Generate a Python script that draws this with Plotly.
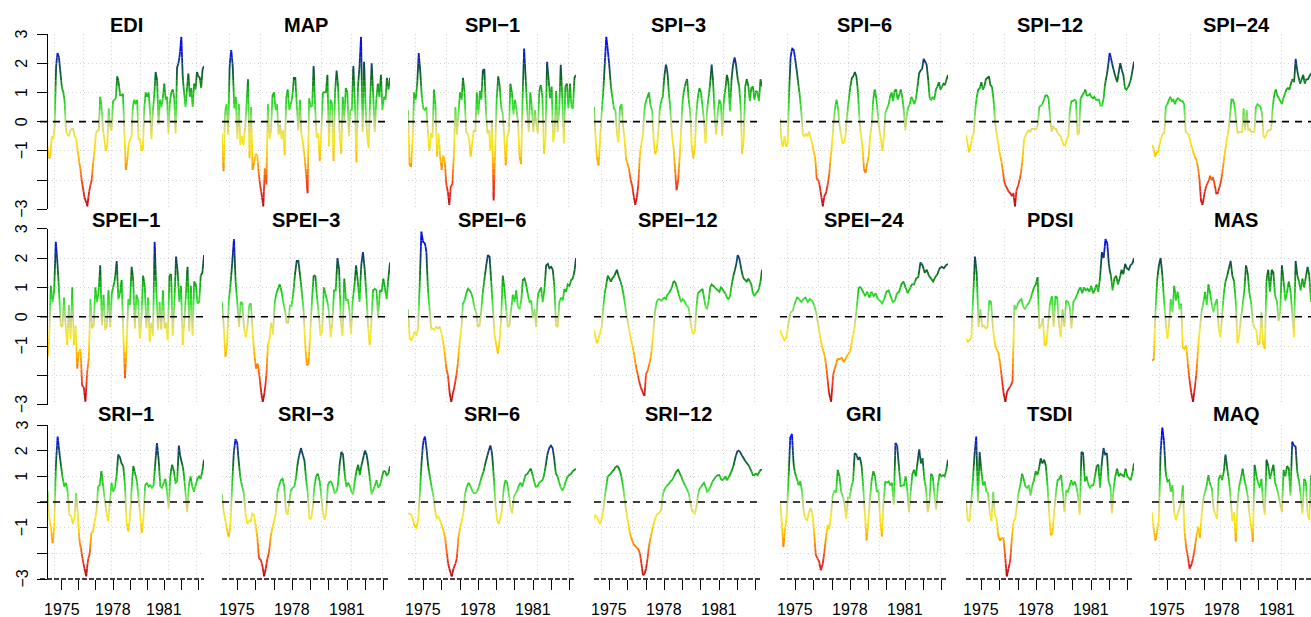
import numpy as np
import pandas as pd
import plotly.graph_objects as go

# ---------------- data ----------------
N_MONTHS = 111
START = "1974-03-01"

EDI = [-0.85, -1.25, -1.2, -0.5, -0.6, -0.2, 1.9, 2.35, 2.2, 1.7,
       1.2, 1.0, 0.75, -0.35, -0.45, -0.5, -0.3, -0.25, -0.25, -0.5,
       -0.55, -0.9, -1.3, -1.6, -2.0, -2.3, -2.6, -2.7, -2.9, -2.45,
       -2.2, -2.0, -1.4, -1.0, -0.4, -0.3, -0.3, 0.85, 0.5, -0.3,
       -0.6, -1.0, -0.8, 0.45, -0.2, -0.3, 0.7, 0.75, 0.8, 1.55,
       1.35, 0.9, 0.9, 0.95, -0.35, -1.65, -1.35, -0.75, -0.6, -0.5,
       0.55, 0.75, 0.6, 0.75, -0.6, -0.6, -1.0, -0.95, 0.5, 1.0,
       0.85, 1.0, 0.4, -0.6, 0.35, 0.9, 1.7, 1.4, -0.1, 0.75,
       0.5, 0.8, 1.3, 0.75, 0.85, -0.4, 0.7, 1.0, 1.1, 0.85,
       -0.4, 1.85, 2.0, 2.3, 2.9, 1.5, 1.0, 0.5, 1.1, 1.65,
       0.85, 1.15, 0.5, 1.3, 1.1, 1.7, 1.55, 1.5, 1.15, 1.8, 1.9]

MAP = [-0.4, -1.7, 0.35, 0.6, -0.45, 1.95, 2.45, 1.9, 0.45, 0.85,
       -0.6, 0.6, -0.8, -0.5, -0.8, -0.3, 0.5, 1.45, -1.25, 0.5,
       -1.65, -1.4, -1.1, -1.15, -1.75, -2.2, -2.5, -2.9, -1.6, -2.15,
       0.6, -0.6, -0.35, 0.9, 1.0, 0.4, 0.6, -0.45, -0.1, -0.6,
       -0.3, -1.15, 0.8, 1.1, 0.4, 0.6, 0.85, 1.5, 1.5, 0.5,
       -0.3, 0.75, -0.45, -0.7, -1.2, -1.75, -2.45, 0.8, 0.5, 0.55,
       1.9, 0.45, -0.55, -0.4, -1.35, -0.35, 1.0, 1.0, 1.0, 1.6,
       -0.85, 0.75, 0.6, -1.35, 1.0, 1.75, 1.2, -0.5, -1.1, 0.85,
       0.05, 1.15, 1.0, -0.5, 0.4, 0.4, 1.9, 0.6, -1.4, 1.2,
       1.9, 2.9, -0.35, 2.05, 0.45, -0.5, -0.9, 0.75, 2.0, 0.9,
       -0.35, 0.75, 1.3, 0.85, 1.6, 0.4, 0.85, 0.75, 1.5, 1.1, 1.5]

SPI_1 = [0.4, -1.45, -1.55, -0.6, 1.0, 0.75, 1.3, 2.35, 1.7, 0.85,
         0.45, 0.4, 0.5, -0.35, -1.0, -0.4, -0.55, 1.1, 0.5, -1.2,
         -0.4, -1.2, -1.65, -1.15, -1.3, -2.15, -2.35, -2.85, -2.2, -2.15,
         -1.1, 0.5, -0.45, 0.3, 1.0, 0.75, 1.5, 1.0, -0.35, -0.4,
         -0.6, -1.2, -0.7, -0.3, -0.35, 1.0, 0.25, 1.05, 0.75, 1.75,
         1.8, 0.4, -0.4, -0.3, -1.0, 0.05, -2.7, -1.0, 0.75, 1.55,
         1.25, 0.45, 0.3, -0.5, -1.5, -0.5, -0.4, 1.3, 1.0, 0.25,
         0.75, 0.4, 0.0, -1.2, -1.45, 0.85, 2.5, 1.5, 0.4, -0.35,
         1.0, 0.5, -0.35, 0.4, -0.1, -0.4, 1.15, 1.25, 0.85, -1.1,
         -0.55, 2.05, 1.45, 0.8, 1.2, -0.7, -0.4, 1.05, -0.35, 0.45,
         1.95, 0.8, -0.75, 1.2, 1.3, 0.45, 1.3, 0.5, 0.45, 1.5, 1.6]

SPI_3 = [0.5, -0.5, -1.3, -1.5, -0.6, 0.3, 1.0, 1.95, 2.9, 2.45,
         1.9, 1.2, 0.85, 0.45, 0.4, -0.4, -0.7, 0.5, 0.6, -0.15,
         -0.6, -1.3, -1.45, -1.65, -2.0, -2.2, -2.55, -2.85, -2.6, -2.15,
         -1.1, -0.75, -0.45, 0.45, 0.75, 0.85, 1.0, 0.55, 0.4, -0.6,
         -1.1, -1.0, -0.4, 0.4, 0.75, 0.85, 1.55, 1.95, 1.75, 1.0,
         0.4, -0.45, -0.85, -1.6, -2.35, -2.05, -1.25, -0.3, 0.75, 1.1,
         1.35, 1.45, 0.75, 0.3, -0.85, -1.25, -0.85, 0.3, 0.85, 1.15,
         1.0, 0.5, 0.05, -0.75, 0.4, 0.85, 1.3, 1.95, 1.3, 0.15,
         -0.45, 0.35, 0.75, 0.6, -0.5, 0.75, 1.1, 1.6, 1.35, 0.35,
         1.45, 1.95, 2.2, 1.95, 1.45, 1.2, 0.5, -1.1, -0.6, 1.2,
         1.45, 1.25, 0.7, 1.15, 1.2, 0.75, 1.05, 1.0, 0.7, 1.45, 1.2]

SPI_6 = [0.1, -0.75, -0.85, -0.5, -0.85, -0.75, 1.1, 2.3, 2.5, 2.45,
         2.1, 1.7, 1.3, 0.85, 0.3, -0.45, -0.5, -0.4, -0.5, -0.35,
         -0.5, -0.75, -1.0, -1.25, -1.95, -2.0, -2.2, -2.55, -2.9, -2.55,
         -2.45, -2.2, -1.9, -1.3, -0.75, -0.05, 0.45, 0.75, 0.45, -0.15,
         -0.5, -0.75, -0.7, -0.4, 0.3, 0.75, 1.2, 1.5, 1.55, 1.7,
         1.55, 1.05, 0.1, -0.5, -0.9, -1.65, -1.75, -1.45, -1.2, -0.45,
         -0.15, 0.75, 1.1, 0.8, 0.3, -0.3, -0.55, -1.0, -0.5, 0.3,
         0.45, 0.55, 0.85, 1.0, 0.7, 1.05, 1.1, 0.75, 0.9, 1.1,
         0.85, 0.4, -0.3, 0.3, 0.5, 0.6, 0.85, 0.75, 0.6, 0.8,
         1.2, 1.65, 1.75, 1.8, 2.15, 2.05, 1.95, 1.45, 0.8, 0.75,
         0.85, 0.75, 1.1, 1.2, 1.35, 1.1, 1.2, 1.3, 1.25, 1.45, 1.6]

SPI_12 = [-0.45, -0.75, -1.05, -0.85, -0.55, -0.4, 0.4, 0.85, 1.1, 1.15,
          1.35, 1.1, 1.2, 1.45, 1.5, 1.55, 1.25, 1.2, 0.75, 0.0,
          -0.4, -0.75, -1.1, -1.3, -1.65, -2.05, -2.2, -2.3, -2.4, -2.45,
          -2.55, -2.45, -2.9, -2.35, -2.2, -2.0, -1.75, -1.3, -0.6, -0.45,
          -0.35, -0.3, -0.35, -0.25, -0.25, -0.25, -0.25, -0.1, 0.5, 0.55,
          0.6, 0.75, 0.9, 0.9, 0.8, 0.15, -0.35, -0.15, -0.25, -0.25,
          -0.4, -0.45, -0.5, -0.7, -0.8, -0.8, -0.6, -0.5, 0.4, 0.7,
          0.7, 0.75, 0.7, -0.45, -0.4, 0.8, 0.9, 0.95, 1.1, 0.9,
          0.9, 0.95, 0.85, 0.8, 0.85, 0.75, 0.75, 0.75, 0.55, 0.55,
          0.75, 1.3, 1.55, 1.9, 2.35, 2.15, 1.9, 1.7, 1.5, 1.35,
          1.7, 2.0, 1.75, 1.6, 1.15, 1.1, 1.15, 1.3, 1.45, 1.75, 2.05]

# last months of SPI-24 fall outside the cropped picture
SPI_24 = [-0.8, -0.9, -1.2, -1.05, -1.05, -0.75, -0.55, -0.4, -0.4, 0.5,
          0.6, 0.75, 0.85, 0.7, 0.75, 0.6, 0.75, 0.8, 0.75, 0.7,
          0.7, 0.6, -0.35, -0.4, -0.45, -0.7, -0.85, -1.05, -1.2, -1.3,
          -1.55, -1.95, -2.7, -2.85, -2.55, -2.25, -2.15, -2.05, -1.85, -2.0,
          -1.9, -2.15, -2.45, -2.45, -2.25, -2.1, -1.75, -1.3, -0.95, -0.6,
          -0.35, 0.15, 0.75, 0.75, 0.55, 0.1, -0.4, -0.35, -0.35, -0.35,
          0.45, -0.3, 0.4, -0.3, -0.25, -0.35, -0.35, -0.35, 0.5, 0.6,
          0.55, 0.5, 0.3, -0.5, -0.55, -0.4, -0.3, -0.3, -0.25, 0.5,
          0.95, 1.1, 0.9, 0.8, 0.7, 0.6, 0.8, 0.95, 1.1, 1.15,
          1.1, 1.35, 1.45, 1.35, 2.15, 1.75, 1.5, 1.3, 1.45, 1.6,
          1.3, 1.45, 1.45, 1.55, 1.65, None, None, None, None, None, None]

SPEI_1 = [-1.37, -0.75, 1.05, 0.5, 0.85, 2.55, 1.85, 0.85, -0.3, -0.35,
          0.65, -0.3, -0.97, 0.4, -0.75, 1.0, -0.97, -0.3, -1.77, -1.2,
          -1.1, -2.35, -2.4, -2.9, -1.9, -1.45, 0.6, -0.4, -0.3, 1.0,
          0.5, 0.85, 1.75, -0.3, 0.75, -0.45, -0.3, 0.9, -0.35, 0.8,
          1.05, 1.3, 1.9, 0.6, 0.8, 1.25, -0.65, -2.1, -0.97, 0.6,
          0.4, 1.7, 1.3, -0.4, 0.75, 0.55, -0.75, -0.05, 1.4, 1.05,
          -0.4, 0.65, -0.85, -0.2, -0.65, 2.55, 0.95, -0.45, 0.5, -0.45,
          0.9, -0.4, -0.2, -0.8, 1.4, 1.45, -0.65, 0.5, 2.05, 1.5,
          0.5, 1.05, -0.97, -0.2, 0.75, 1.7, -0.5, 1.05, -0.65, 1.2,
          1.1, 0.45, 0.5, 1.4, 1.5, 2.1]

SPEI_3 = [0.5, -0.3, -1.37, -0.97, 0.55, 1.1, 1.85, 2.65, 1.2, 0.45,
          -0.35, 0.5, 0.45, -0.4, -0.7, -0.35, 0.4, 0.45, -0.5, -1.25,
          -1.77, -1.6, -2.0, -2.55, -2.9, -2.6, -2.1, -0.97, -0.75, -0.2,
          -0.6, 0.5, 0.8, 0.95, 1.1, 0.9, 0.5, 0.25, -0.2, -0.2,
          0.4, 0.35, 0.85, 1.45, 1.9, 1.9, 1.4, 0.85, 0.25, -0.97,
          -1.65, -1.6, -0.5, 0.6, 1.4, 1.4, 0.65, 0.1, -0.65, -0.5,
          1.0, 0.75, 0.55, 0.15, -0.7, -0.2, 0.9, 0.9, 2.0, 1.6,
          -0.2, -0.65, 1.3, 0.55, 0.6, 0.25, -0.6, 0.55, 1.05, 1.75,
          1.2, 0.5, 1.75, 2.2, 1.65, 0.75, -0.3, -0.97, -0.2, 0.9,
          0.95, 0.9, -0.05, 0.9, 0.85, 1.3, 0.95, 0.6, 1.3, 1.85]

SPEI_6 = [0.25, -0.75, -0.8, -0.7, -0.5, -0.65, -0.45, 1.1, 2.9, 2.55,
          2.5, 2.3, 0.9, 0.25, -0.45, -0.4, -0.45, -0.35, -0.4, -0.35,
          -0.5, -0.85, -1.2, -1.77, -2.0, -2.6, -2.9, -2.6, -2.35, -2.0,
          -1.55, -0.85, -0.4, 0.45, 0.55, 0.8, 0.95, 0.9, 0.8, 0.6,
          0.25, 0.15, -0.35, -0.3, 0.2, 0.85, 1.3, 1.75, 2.1, 2.05,
          1.2, 0.25, -0.6, -0.97, -1.25, -0.85, -0.05, 1.4, 0.95, 0.25,
          -0.35, -0.3, 0.25, 0.75, 0.5, 0.9, 0.35, 0.25, 0.5, 1.25,
          1.3, 1.1, 0.75, 0.5, 0.55, -0.05, 0.25, -0.35, 0.75, 0.9,
          1.0, 0.5, 0.95, 1.75, 1.8, 1.65, 1.7, 1.6, 1.0, -0.3,
          -0.35, 0.5, 0.65, 0.55, 0.95, 0.85, 1.1, 1.05, 1.25, 1.3,
          1.5, 2.0]

SPEI_12 = [-0.45, -0.75, -0.9, -0.75, -0.55, -0.35, 0.3, 0.8, 1.1, 1.4,
           1.3, 1.2, 1.3, 1.35, 1.5, 1.6, 1.4, 1.25, 1.1, 0.85,
           0.5, 0.15, -0.15, -0.45, -0.75, -0.95, -1.2, -1.55, -1.85, -2.05,
           -2.35, -2.45, -2.6, -2.7, -1.95, -1.85, -1.65, -1.45, -1.0, -0.4,
           0.2, 0.5, 0.6, 0.6, 0.55, 0.6, 0.65, 0.6, 0.75, 0.8,
           0.9, 1.0, 1.2, 1.2, 1.05, 0.85, 0.65, 0.5, 0.6, 0.55,
           0.45, 0.35, 0.3, -0.1, -0.45, -0.6, -0.5, 0.3, 0.8, 0.85,
           0.9, 0.95, 0.65, 0.35, 0.25, 0.5, 1.0, 1.1, 1.05, 1.0,
           0.95, 0.9, 0.85, 1.0, 0.95, 0.85, 0.8, 0.65, 0.6, 0.7,
           1.05, 1.35, 1.55, 1.75, 2.1, 2.0, 1.75, 1.45, 1.3, 1.25,
           1.2, 1.3, 1.2, 1.1, 0.8, 0.7, 0.8, 0.85, 0.95, 1.2, 1.6]

SPEI_24 = [-0.45, -0.65, -0.8, -0.7, -0.2, 0.15, 0.2, 0.5, 0.65, 0.6,
           0.5, 0.6, 0.65, 0.5, 0.6, 0.55, 0.4, 0.15, -0.3, -0.75,
           -1.1, -1.3, -1.9, -2.6, -2.9, -1.95, -1.7, -1.45, -1.45, -1.4,
           -1.55, -1.4, -1.3, -1.15, -0.75, -0.4, 0.25, 1.0, 1.0, 0.85,
           0.7, 0.85, 0.65, 0.85, 0.7, 0.8, 0.6, 0.55, 0.45, 0.6,
           0.85, 0.9, 0.7, 0.5, 0.55, 0.8, 0.85, 1.1, 1.2, 1.0,
           0.8, 0.95, 1.1, 1.1, 1.3, 1.35, 1.85, 1.75, 1.5, 1.6,
           1.4, 1.3, 1.2, 1.35, 1.45, 1.65, 1.7, 1.65, 1.75, 1.8]

PDSI = [-0.75, -0.85, -0.8, -0.7, 0.7, 2.05, 1.45, -0.35, 0.25, -0.35,
        -0.3, -0.4, -0.35, 0.55, 0.5, -0.35, -0.9, -1.1, -1.2, -1.55,
        -2.1, -2.6, -2.9, -2.55, -2.45, -2.35, -2.2, 0.4, 0.25, 0.45,
        0.55, 0.6, 0.35, 0.25, 0.4, 0.45, 0.6, 0.8, 1.0, 1.1,
        1.35, -0.4, -0.3, -0.05, -1.0, -0.9, -0.2, 0.5, 0.7, -0.35,
        0.7, 0.65, -0.2, -0.7, 0.25, -0.35, 0.55, 0.5, 0.35, -0.4,
        0.5, 0.6, 0.7, 0.9, 1.0, 0.8, 1.0, 0.9, 0.95, 0.85,
        1.05, 0.8, 0.9, 1.1, 0.85, 1.35, 2.2, 2.0, 2.65, 2.5,
        1.7, 1.4, 0.9, 1.3, 1.4, 1.1, 1.3, 1.6, 1.45, 1.8,
        1.65, 1.6, 1.75, 1.8, 2.0]

MAS = [-1.5, -1.45, 0.15, 1.25, 1.75, 2.0, 1.45, 0.55, -0.2, -0.75,
       -0.2, 0.6, 0.15, 1.05, 0.55, 0.85, 0.25, 0.45, -1.05, -1.1,
       -0.97, -1.65, -2.2, -2.6, -2.9, -2.45, -1.9, -0.97, -0.4, 0.2,
       0.45, 0.85, 0.4, 1.1, 0.8, 0.4, 0.15, 0.45, 0.6, -0.4,
       -0.7, 0.05, 0.8, 1.2, 1.4, 1.65, 1.9, 1.4, 1.2, 0.5,
       -0.9, -0.65, -0.05, 0.4, 0.85, 1.75, 1.5, 0.8, 0.5, -0.2,
       -0.4, -0.45, -0.97, -0.9, 0.15, -0.97, -1.1, 1.3, 1.6, 0.85,
       1.6, 1.5, 0.65, 0.55, -0.15, 0.15, 1.75, 1.2, 0.55, 0.85,
       1.2, 0.9, 0.15, -0.7, 1.9, 1.4, 1.2, 0.9, 1.3, 1.0,
       1.35, 1.7, 1.4, 0.5]

SRI_1 = [0.45, -0.65, -0.95, -1.6, -0.95, 1.5, 2.55, 1.95, 1.4, 0.9,
         0.6, 0.75, 0.4, -0.5, -0.55, -0.85, -0.65, 0.35, -0.5, -1.55,
         -1.85, -2.3, -2.6, -2.9, -2.25, -2.05, -1.2, -1.15, -0.75, -0.4,
         0.6, 0.65, 1.2, 0.65, 0.1, -0.4, -0.75, -0.05, 0.75, 0.4,
         0.55, 1.0, 1.85, 1.75, 1.5, 1.4, 0.65, -0.85, -1.15, -0.55,
         0.6, 1.4, 1.1, 0.9, 0.2, -0.45, -1.2, -0.6, 0.65, 0.75,
         0.6, 0.65, 0.55, 0.65, 1.5, 2.3, 1.65, 0.6, 0.55, 0.75,
         0.9, 0.4, -0.25, 1.05, 1.45, 1.25, 0.75, 0.8, 2.2, 1.7,
         1.5, 1.1, 0.35, -0.4, 0.65, 1.0, 0.6, 0.4, 0.65, 0.9,
         1.0, 0.9, 1.2, 1.65]

SRI_3 = [0.3, -0.4, -0.7, -1.1, -1.35, -0.9, 0.65, 1.95, 2.45, 2.3,
         1.5, 0.9, 0.6, 0.35, -0.45, -0.85, -0.75, -0.75, -0.45, -0.5,
         -0.9, -1.4, -2.2, -2.25, -2.45, -2.9, -2.6, -2.2, -1.95, -1.3,
         -1.0, -0.75, -0.4, 0.4, 0.65, 0.85, 0.9, 0.65, -0.4, -0.5,
         0.0, 0.45, 0.55, 0.6, 0.9, 1.5, 1.85, 2.1, 1.85, 1.65,
         0.9, 0.35, -0.65, -0.65, -0.25, 0.6, 1.0, 1.1, 0.9, 0.3,
         -0.4, -0.7, -0.4, 0.65, 0.8, 0.8, 0.6, 0.35, 0.4, 0.65,
         1.5, 1.95, 1.85, 1.05, 0.6, 0.75, 0.65, 0.4, 0.3, 0.8,
         1.2, 1.45, 1.05, 1.45, 1.7, 2.0, 1.85, 1.45, 0.9, 0.3,
         0.45, 0.65, 0.85, 0.55, 0.65, 0.9, 1.2, 1.2, 1.05, 1.1, 1.4]

SRI_6 = [-0.45, -0.45, -0.5, -0.7, -0.95, -1.0, -0.7, 0.3, 1.5, 2.35,
         2.55, 2.1, 1.4, 1.0, 0.6, 0.3, -0.3, -0.65, -0.55, -0.7,
         -0.9, -1.1, -1.35, -1.95, -2.45, -2.7, -2.9, -2.6, -2.45, -2.2,
         -1.35, -1.0, -0.7, -0.4, 0.35, 0.6, 0.75, 0.65, 0.45, 0.35,
         0.35, 0.4, 0.55, 0.8, 1.0, 1.2, 1.5, 1.75, 2.0, 2.2,
         1.9, 1.0, -0.1, -0.7, -0.85, -0.65, -0.25, 0.55, 0.85, 0.75,
         0.3, -0.2, -0.45, 0.2, 0.35, 0.45, 0.65, 0.75, 0.6, 0.85,
         1.05, 1.1, 1.2, 1.3, 1.1, 0.8, 0.6, 0.6, 0.75, 0.8,
         0.85, 1.05, 1.45, 1.9, 2.1, 2.2, 2.1, 1.7, 1.1, 1.0,
         0.75, 0.55, 0.45, 0.6, 0.85, 1.0, 1.05, 1.1, 1.2, 1.25, 1.3]

SRI_12 = [-0.65, -0.5, -0.6, -0.75, -0.85, -0.7, -0.35, 0.2, 0.6, 1.0,
          1.05, 1.1, 1.2, 1.25, 1.35, 1.4, 1.35, 1.2, 0.95, 0.6,
          0.15, -0.35, -0.7, -1.05, -1.35, -1.5, -1.65, -1.72, -1.78, -1.85,
          -2.0, -2.4, -2.85, -2.8, -2.6, -2.2, -1.7, -1.4, -1.1, -0.85,
          -0.65, -0.5, -0.45, -0.4, -0.3, 0.3, 0.5, 0.6, 0.65, 0.7,
          0.8, 0.85, 0.95, 1.1, 1.2, 1.25, 1.15, 1.0, 0.85, 0.7,
          0.6, 0.5, 0.35, 0.0, -0.3, -0.4, -0.45, -0.2, 0.25, 0.5,
          0.6, 0.7, 0.75, 0.6, 0.4, 0.45, 0.55, 0.75, 0.85, 0.9,
          1.0, 1.05, 1.05, 0.9, 0.85, 0.9, 1.0, 0.85, 0.95, 1.05,
          1.2, 1.35, 1.6, 1.85, 2.0, 2.0, 1.9, 1.8, 1.7, 1.6,
          1.5, 1.45, 1.35, 1.2, 1.05, 1.05, 1.1, 1.05, 1.15, 1.25, 1.25]

GRI = [0.0, -0.75, -1.75, -1.05, -0.5, 0.9, 2.5, 2.65, 1.45, 1.05,
       0.9, 0.65, 0.8, 0.4, -0.4, -0.65, -0.7, -0.4, -0.25, -0.4,
       -1.15, -2.05, -2.2, -2.3, -2.65, -2.5, -2.0, -1.4, -0.9, -1.05,
       -0.5, 0.25, 0.45, 0.35, 1.25, 1.0, 0.4, 0.25, -0.1, -0.65,
       0.2, 0.15, 0.6, 0.75, 1.9, 1.85, 1.65, 1.75, 1.45, 0.6,
       -0.5, -1.5, -0.7, 0.15, 0.85, 1.2, 1.0, 0.4, 0.45, -0.7,
       -1.35, 0.0, 0.8, 0.75, 0.8, 0.65, 0.75, -0.1, 2.3, 2.2,
       1.4, 0.6, 0.65, 0.65, 1.0, 0.45, -0.4, 0.4, 1.1, 1.25,
       1.0, 1.55, 2.05, 1.5, 1.7, 0.85, 0.55, -0.4, -0.1, 1.1,
       1.0, 0.25, -0.3, 0.65, 1.1, 1.0, 1.05, 1.0, 1.25, 1.65]

TSDI = [0.0, -0.7, -0.75, 0.0, 0.8, 1.85, 2.55, 0.0, 1.95, 1.2,
        0.65, 0.8, 0.4, 0.35, -0.4, -0.75, 0.4, -0.5, -0.65, -1.35,
        -1.5, -1.4, -1.4, -2.05, -2.9, -2.6, -2.3, -1.4, -0.75, -0.65,
        -0.1, 0.4, 0.65, 1.1, 0.9, 0.6, 0.55, 0.65, 0.25, 0.65,
        0.85, 1.2, 1.05, 1.3, 1.7, 1.5, 1.65, 1.45, 0.65, -0.5,
        -1.3, -1.2, -0.3, 0.4, 0.85, 0.9, 1.05, 0.4, -0.4, 0.45,
        0.4, 0.6, 0.85, 0.65, 0.8, 0.6, 0.25, -0.5, 1.95, 1.9,
        0.8, 1.0, 0.65, 0.55, 0.65, 0.65, 1.0, 1.4, 1.45, 0.55,
        1.55, 2.1, 1.85, 1.9, 0.8, 0.65, -0.45, 0.55, 1.0, 1.3,
        1.0, 1.1, 1.05, 1.0, 1.3, 1.0, 0.9, 0.85, 1.1, 1.5]

MAQ = [-0.4, -1.05, -1.5, -1.15, -0.7, 1.95, 2.9, 2.35, 1.1, 0.8,
       0.85, 0.4, 0.65, -0.4, -0.7, -0.45, -0.25, -0.05, 0.65, -1.15,
       -1.8, -2.15, -2.6, -2.45, -2.2, -1.8, -1.3, -0.95, -1.4, -0.5,
       0.15, 0.4, 0.65, 1.05, 0.65, 0.55, -0.25, -0.5, -0.65, 0.9,
       1.05, 0.85, 1.2, 1.85, 1.3, 0.85, 0.15, -0.75, -0.4, -1.55,
       -0.1, 0.65, 0.9, 1.3, 0.9, 0.6, 0.25, -0.5, -0.95, -1.55,
       1.45, 1.05, 0.75, 0.55, 0.9, 0.0, -0.5, 1.65, 1.4, 0.9,
       1.2, 1.45, 0.75, 0.55, 0.25, -0.1, -0.4, 1.25, 1.0, 1.4,
       1.3, 0.25, 2.35, 2.2, 2.15, 1.1, 0.85, 0.25, -0.45, 0.9,
       0.8, -0.5, -0.7, 1.05]

NAMES = ["EDI", "MAP", "SPI\u22121", "SPI\u22123", "SPI\u22126", "SPI\u221212", "SPI\u221224",
         "SPEI\u22121", "SPEI\u22123", "SPEI\u22126", "SPEI\u221212", "SPEI\u221224", "PDSI", "MAS",
         "SRI\u22121", "SRI\u22123", "SRI\u22126", "SRI\u221212", "GRI", "TSDI", "MAQ"]
SERIES = [EDI, MAP, SPI_1, SPI_3, SPI_6, SPI_12, SPI_24,
          SPEI_1, SPEI_3, SPEI_6, SPEI_12, SPEI_24, PDSI, MAS,
          SRI_1, SRI_3, SRI_6, SRI_12, GRI, TSDI, MAQ]
# month (index from START) of the last reading; the right column is cut by the picture edge
LAST_MONTH = {"MAS": 104.06, "MAQ": 104.06}

YEAR_TICKS = list(range(1975, 1984))
YEAR_LABELS = ["1975", "1978", "1981"]
Y_TICKS = [-3, -2, -1, 0, 1, 2, 3]
# labels R kept on the y axis (the others were dropped for lack of room)
Y_LABELS_ROW = [[-3, -1, 0, 1, 2, 3], [-3, -1, 0, 1, 2, 3], [-3, -1, 1, 2, 3]]

# ---------------- styling / geometry ----------------
W, H = 1311, 617
FONT = "Liberation Sans, Arial, sans-serif"
GRID_COLOR = "#D3D3D3"
GRID_DASH = "1px,3px"
COL_L = [47.5, 222, 408, 594, 780, 966, 1152]
COL_R = [204, 390, 576, 762, 948, 1134, 1311]
COL_TITLE = [126, 306, 492, 678, 864, 1050, 1236]
X_END = [110, 110, 110, 110, 110, 110, 104.06]
ROW_TOP = [34.0, 228.7, 425.0]
ROW_BOT = [209.3, 404.7, 579.0]
TITLE_Y = [24.5, 220.0, 414.0]
YLAB_X = 21.5
XLAB_Y = 609.0
GRID_MONTHS = [5, 25, 45, 65, 85, 105]

STOPS = [(-3.0, "#9A0A0A"), (-2.6, "#D7191C"), (-2.1, "#F4441A"), (-1.6, "#FF8C00"),
         (-1.15, "#FFC800"), (-0.6, "#F7EC1E"), (-0.15, "#D6D283"), (0.2, "#8ADB6A"),
         (0.55, "#2EE02A"), (1.05, "#14B514"), (1.5, "#0B6B1E"), (2.0, "#123F6E"),
         (2.4, "#0A14E6"), (3.0, "#0000FF")]

month_dates = pd.date_range(START, periods=N_MONTHS, freq="MS")
month_ms = np.array([pd.Timestamp(d).value / 1e6 for d in month_dates])


def to_ms(p):
    return float(np.interp(p, np.arange(N_MONTHS), month_ms))


def hex_rgb(h):
    return tuple(int(h[i:i + 2], 16) for i in (1, 3, 5))


def color_at(v):
    v = min(max(v, STOPS[0][0]), STOPS[-1][0])
    for (a, ca), (b, cb) in zip(STOPS[:-1], STOPS[1:]):
        if v <= b:
            t = (v - a) / (b - a)
            r1, g1, b1 = hex_rgb(ca)
            r2, g2, b2 = hex_rgb(cb)
            return "rgb(%d,%d,%d)" % (round(r1 + t * (r2 - r1)), round(g1 + t * (g2 - g1)), round(b1 + t * (b2 - b1)))
    return STOPS[-1][1]


EDGES = np.round(np.arange(-3.6, 3.61, 0.2), 6)


def bin_index(v):
    i = int(np.searchsorted(EDGES, v, side="right")) - 1
    return min(max(i, 0), len(EDGES) - 2)


def label(v):
    return ("\u2212%g" % -v) if v < 0 else "%g" % v


fig = go.Figure()
layout = {}
shapes = []
annotations = []

for k, (name, vals) in enumerate(zip(NAMES, SERIES)):
    r, c = divmod(k, 7)
    sfx = "" if k == 0 else str(k + 1)
    n = len(vals)
    pos = np.linspace(0, LAST_MONTH.get(name, N_MONTHS - 1), n)

    runs = []
    last_end = None
    for i in range(n - 1):
        v0, v1 = vals[i], vals[i + 1]
        if v0 is None or v1 is None:
            last_end = None
            continue
        p0, p1 = pos[i], pos[i + 1]
        lo, hi = min(v0, v1), max(v0, v1)
        cuts = [e for e in EDGES if lo < e < hi]
        if v1 < v0:
            cuts.reverse()
        pts = [(p0, v0)] + [(p0 + (e - v0) / (v1 - v0) * (p1 - p0), e) for e in cuts] + [(p1, v1)]
        for (pa, va), (pb, vb) in zip(pts[:-1], pts[1:]):
            b = bin_index((va + vb) / 2)
            if runs and runs[-1][0] == b and last_end == (pa, va):
                runs[-1][1].append(pb)
                runs[-1][2].append(vb)
            else:
                runs.append([b, [pa, pb], [va, vb]])
            last_end = (pb, vb)

    by_bin = {}
    for b, xs, ys in runs:
        X, Y = by_bin.setdefault(b, ([], []))
        if X:
            X.append(None)
            Y.append(None)
        X.extend(to_ms(p) for p in xs)
        Y.extend(ys)
    for b in sorted(by_bin):
        X, Y = by_bin[b]
        fig.add_trace(go.Scatter(
            x=X, y=Y, mode="lines",
            line=dict(color=color_at((EDGES[b] + EDGES[b + 1]) / 2), width=1.8),
            xaxis="x" + sfx, yaxis="y" + sfx, hoverinfo="skip", showlegend=False))

    xa = dict(domain=[COL_L[c] / W, COL_R[c] / W], anchor="y" + sfx, type="date",
              range=[to_ms(0), to_ms(X_END[c])], showgrid=False, zeroline=False, showline=False,
              fixedrange=True, showticklabels=False,
              minor=dict(tickmode="array", tickvals=[to_ms(g) for g in GRID_MONTHS], showgrid=True,
                         gridcolor=GRID_COLOR, griddash=GRID_DASH, gridwidth=1, ticks=""))
    if r == 2:
        year_ms = [pd.Timestamp(f"{y}-01-01").value / 1e6 for y in YEAR_TICKS]
        xa.update(tickmode="array", tickvals=year_ms,
                  ticks="outside", ticklen=10, tickwidth=1, tickcolor="black")
        for y, ms in zip(YEAR_TICKS, year_ms):
            if str(y) in YEAR_LABELS and ms <= to_ms(X_END[c]):
                annotations.append(dict(text=str(y), xref="x" + sfx, yref="paper", x=ms,
                                        y=1 - XLAB_Y / H, xanchor="center", yanchor="middle",
                                        showarrow=False, font=dict(size=16, color="black", family=FONT)))
    else:
        xa.update(tickmode="array", tickvals=[], ticks="")
    layout["xaxis" + sfx] = xa

    ya = dict(domain=[1 - ROW_BOT[r] / H, 1 - ROW_TOP[r] / H], anchor="x" + sfx, range=[-3, 3],
              tickmode="array", tickvals=Y_TICKS, showgrid=True, gridcolor=GRID_COLOR,
              griddash=GRID_DASH, gridwidth=1, zeroline=False, fixedrange=True, showticklabels=False)
    if c == 0:
        ya.update(showline=True, linecolor="black", linewidth=1, ticks="outside", ticklen=10,
                  tickwidth=1, tickcolor="black")
        for v in Y_LABELS_ROW[r]:
            annotations.append(dict(text=label(v), xref="paper", yref="y" + sfx, x=YLAB_X / W, y=v,
                                    xanchor="center", yanchor="middle", textangle=-90,
                                    showarrow=False, font=dict(size=16, color="black", family=FONT)))
    else:
        ya.update(ticks="")
    layout["yaxis" + sfx] = ya

    # dashed reference line at 0 (and at -3 on the bottom row)
    x0 = (40 if c == 0 else COL_L[c]) / W
    x1 = COL_R[c] / W
    y_zero = 1 - (ROW_TOP[r] + ROW_BOT[r]) / 2 / H
    shapes.append(dict(type="line", xref="paper", yref="paper", x0=x0, x1=x1, y0=y_zero, y1=y_zero,
                       line=dict(color="black", width=1.6, dash="7px,6px"), layer="above"))
    if r == 2:
        yb = 1 - ROW_BOT[r] / H
        shapes.append(dict(type="line", xref="paper", yref="paper", x0=x0, x1=x1, y0=yb, y1=yb,
                           line=dict(color="black", width=1.5, dash="5px,2px"), layer="above"))

    annotations.append(dict(text="<b>%s</b>" % name, xref="paper", yref="paper",
                            x=COL_TITLE[c] / W, y=1 - TITLE_Y[r] / H, xanchor="center", yanchor="middle",
                            showarrow=False, font=dict(size=20, color="black", family=FONT)))

fig.update_layout(**layout)
fig.update_layout(width=W, height=H, autosize=False, margin=dict(l=0, r=0, t=0, b=0, pad=0),
                  paper_bgcolor="white", plot_bgcolor="white", showlegend=False,
                  shapes=shapes, annotations=annotations, hovermode=False,
                  font=dict(family=FONT, color="black"))

# the page body has a default 8px margin: remove it so the figure sits at the window origin
fig.write_html("out.html", config={"displayModeBar": False, "staticPlot": True},
               post_script="document.body.style.margin='0px';document.body.style.overflow='hidden';")
